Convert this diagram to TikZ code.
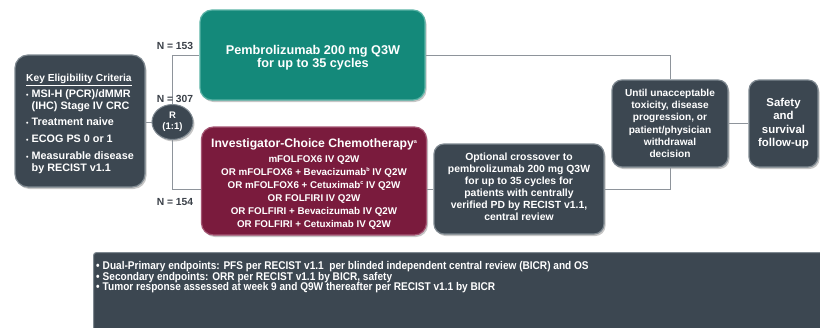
\documentclass[tikz,border=0pt]{standalone}
\usepackage{fontspec}
\setmainfont{Liberation Sans}
\newfontfamily\narrowfont[FakeStretch=0.9]{Liberation Sans}
\usetikzlibrary{shadows,shapes.geometric}
\definecolor{slate}{HTML}{3C4751}
\definecolor{slateedge}{HTML}{7E8890}
\definecolor{tealbox}{HTML}{14897A}
\definecolor{tealedge}{HTML}{5BB3A6}
\definecolor{maroonbox}{HTML}{7A1B3D}
\definecolor{maroonedge}{HTML}{A45673}
\definecolor{conn}{HTML}{8E949B}
\definecolor{labelc}{HTML}{3A4048}
\tikzset{
  boxshadow/.style={drop shadow={opacity=0.45,shadow xshift=1.5pt,shadow yshift=-2pt}},
  darkbox/.style={draw=slateedge,line width=1.2pt,fill=slate,rounded corners=10pt,text=white,align=center,boxshadow,inner sep=2pt},
  tealstyle/.style={draw=tealedge,line width=1.2pt,fill=tealbox,rounded corners=12pt,text=white,align=center,boxshadow},
  maroonstyle/.style={draw=maroonedge,line width=1.2pt,fill=maroonbox,rounded corners=12pt,text=white,align=center,boxshadow},
  ellstyle/.style={ellipse,draw=slateedge,line width=1pt,fill=slate,text=white,align=center,boxshadow,inner sep=0pt},
  boxtext/.style={text=white,inner sep=0pt},
  connector/.style={draw=conn,line width=0.9pt},
  nlabel/.style={text=labelc,font=\bfseries\fontsize{10.3}{12}\selectfont,inner sep=0pt},
}
\newcommand{\sbul}{\makebox[5.5pt][l]{\scriptsize•}}
\newcommand{\supmark}[1]{\raisebox{3.5pt}{\fontsize{5.5}{6}\selectfont #1}}
\begin{document}
\begin{tikzpicture}[x=1pt,y=-1pt]
\useasboundingbox (0,0) rectangle (820,327);

% Eligibility box
\node[darkbox,rounded corners=13pt,minimum width=130pt,minimum height=132pt] (key) at (80,121) {};
\node[boxtext,align=left,font=\bfseries\fontsize{10.8}{12}\selectfont] (keytext) at (80,124)
  {\fontsize{10.2}{12}\selectfont\underline{Key Eligibility Criteria}\\[4pt]
   \sbul MSI-H (PCR)/dMMR\\
   \hspace*{5.5pt}(IHC) Stage IV CRC\\[4.5pt]
   \sbul Treatment naive\\[4.5pt]
   \sbul ECOG PS 0 or 1\\[5.5pt]
   \sbul Measurable disease\\
   \hspace*{5.5pt}by RECIST v1.1};

% Randomisation
\node[ellstyle,minimum width=41pt,minimum height=35pt,font=\bfseries\fontsize{9.5}{11}\selectfont] (R) at (172.5,122) {R\\(1:1)};

% Pembrolizumab box
\node[tealstyle,minimum width=225pt,minimum height=90pt] (pembro) at (312.5,55) {};
\node[boxtext,align=center,font=\bfseries\fontsize{12.7}{13.5}\selectfont] (pembrotext) at (313,57.5)
  {Pembrolizumab 200 mg Q3W\\for up to 35 cycles};

% Chemotherapy box
\node[maroonstyle,minimum width=225pt,minimum height=108pt] (chemo) at (314,181) {};
\node[boxtext,align=center,font=\bfseries\fontsize{12.2}{13}\selectfont] (chemotext) at (314,184)
  {Investigator-Choice Chemotherapy\supmark{a}\\[2pt]
   \fontsize{9.8}{12}\selectfont mFOLFOX6 IV Q2W\\
   \fontsize{9.8}{12}\selectfont OR mFOLFOX6 + Bevacizumab\supmark{b} IV Q2W\\
   \fontsize{9.8}{12}\selectfont OR mFOLFOX6 + Cetuximab\supmark{c} IV Q2W\\
   \fontsize{9.8}{12}\selectfont OR FOLFIRI IV Q2W\\
   \fontsize{9.8}{12}\selectfont OR FOLFIRI + Bevacizumab IV Q2W\\
   \fontsize{9.8}{12}\selectfont OR FOLFIRI + Cetuximab IV Q2W};

% Crossover box
\node[darkbox,minimum width=170pt,minimum height=90pt] (cross) at (519,189) {};
\node[boxtext,align=center,font=\bfseries\fontsize{10.4}{12}\selectfont] (crosstext) at (519,187)
  {Optional crossover to\\pembrolizumab 200 mg Q3W\\for up to 35 cycles for\\patients with centrally\\verified PD by RECIST v1.1,\\central review};

% Until box
\node[darkbox,minimum width=116pt,minimum height=87pt,font=\bfseries\fontsize{10.1}{12.3}\selectfont] (until) at (670,123.5)
  {Until unacceptable\\toxicity, disease\\progression, or\\patient/physician\\withdrawal\\decision};

% Safety box
\node[darkbox,minimum width=69pt,minimum height=87pt,font=\bfseries\fontsize{11.4}{13.3}\selectfont] (safety) at (783.5,123.5)
  {Safety\\and\\survival\\follow-up};

% Connectors
\draw[connector] (key.east |- R.west) -- (R.west);
\draw[connector] (R.north) |- (pembro.west);
\draw[connector] (R.south) |- (chemo.west |- cross.west);
\draw[connector] (chemo.east |- cross.west) -- (cross.west);
\draw[connector] (pembro.east) -| (until.north);
\draw[connector] (until.south) |- (cross.east);
\draw[connector] (until.east) -- (safety.west);

% N labels
\node[nlabel] (n153) at (175,46) {N = 153};
\node[nlabel] (n307) at (175,99) {N = 307};
\node[nlabel] (n154) at (175,202) {N = 154};

% Endpoints box
\node[fill=slate,draw=slateedge,line width=1pt,rounded corners=3pt,anchor=north west,
  minimum width=745pt,minimum height=95pt,inner sep=0pt] (endbox) at (93,252) {};
\node[anchor=north west,text=white,align=left,inner sep=0pt,
  font=\narrowfont\bfseries\fontsize{11.2}{10.7}\selectfont] (endtext) at (96,261)
  {•\hspace{3pt}Dual-Primary endpoints: PFS per RECIST v1.1\ \ per blinded independent central review (BICR) and OS\\
   •\hspace{3pt}Secondary endpoints: ORR per RECIST v1.1 by BICR, safety\\
   •\hspace{3pt}Tumor response assessed at week 9 and Q9W thereafter per RECIST v1.1 by BICR};
\end{tikzpicture}
\end{document}
